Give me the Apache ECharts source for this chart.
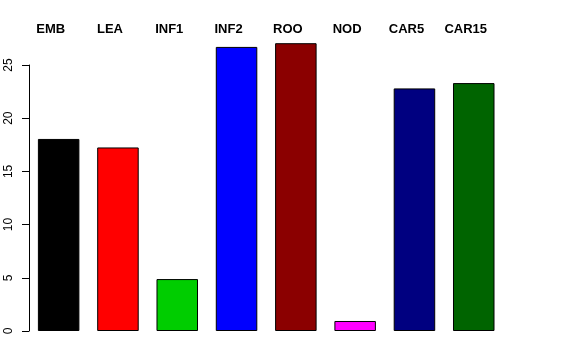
<!DOCTYPE html>
<html><head><meta charset="utf-8">
<script src="https://cdn.jsdelivr.net/npm/echarts@6/dist/echarts.min.js"></script>
<style>html,body{margin:0;padding:0;background:#fff}#c{width:576px;height:360px}</style>
</head><body><div id="c"></div>
<script>
const categories = ['EMB','LEA','INF1','INF2','ROO','NOD','CAR5','CAR15'];
const values = [18.05, 17.25, 4.88, 26.7, 27.05, 0.94, 22.8, 23.3];
const colors = ['#000000','#FF0000','#00CD00','#0000FF','#8B0000','#FF00FF','#000080','#006400'];
const yTicks = [0,5,10,15,20,25];

const chart = echarts.init(document.getElementById('c'), null, {renderer:'canvas'});
chart.setOption({
  animation:false,
  backgroundColor:'#fff',
  grid:{left:29, top:65, width:474.4, bottom:29},
  xAxis:{
    type:'category', data:categories, position:'top',
    axisLine:{show:false}, axisTick:{show:false},
    axisLabel:{fontFamily:'Liberation Sans, Arial, sans-serif', fontWeight:'bold', fontSize:13, color:'#000', margin:29, padding:[0,16,0,0], interval:0}
  },
  yAxis:{
    type:'value', min:0, max:25, interval:5,
    splitLine:{show:false},
    axisLine:{show:true, lineStyle:{color:'#000', width:1}},
    axisTick:{show:true, length:7, lineStyle:{color:'#000'}},
    axisLabel:{rotate:90, fontFamily:'Liberation Sans, Arial, sans-serif', fontSize:12, color:'#000', margin:14,
      formatter:(v)=> yTicks.includes(v) ? String(v) : ''}
  },
  series:[{
    type:'bar', clip:false, barCategoryGap:'30%',
    data: values.map((v,i)=>({value:v, itemStyle:{color:colors[i]}})),
    itemStyle:{borderColor:'#000', borderWidth:1}
  }]
});
</script></body></html>
